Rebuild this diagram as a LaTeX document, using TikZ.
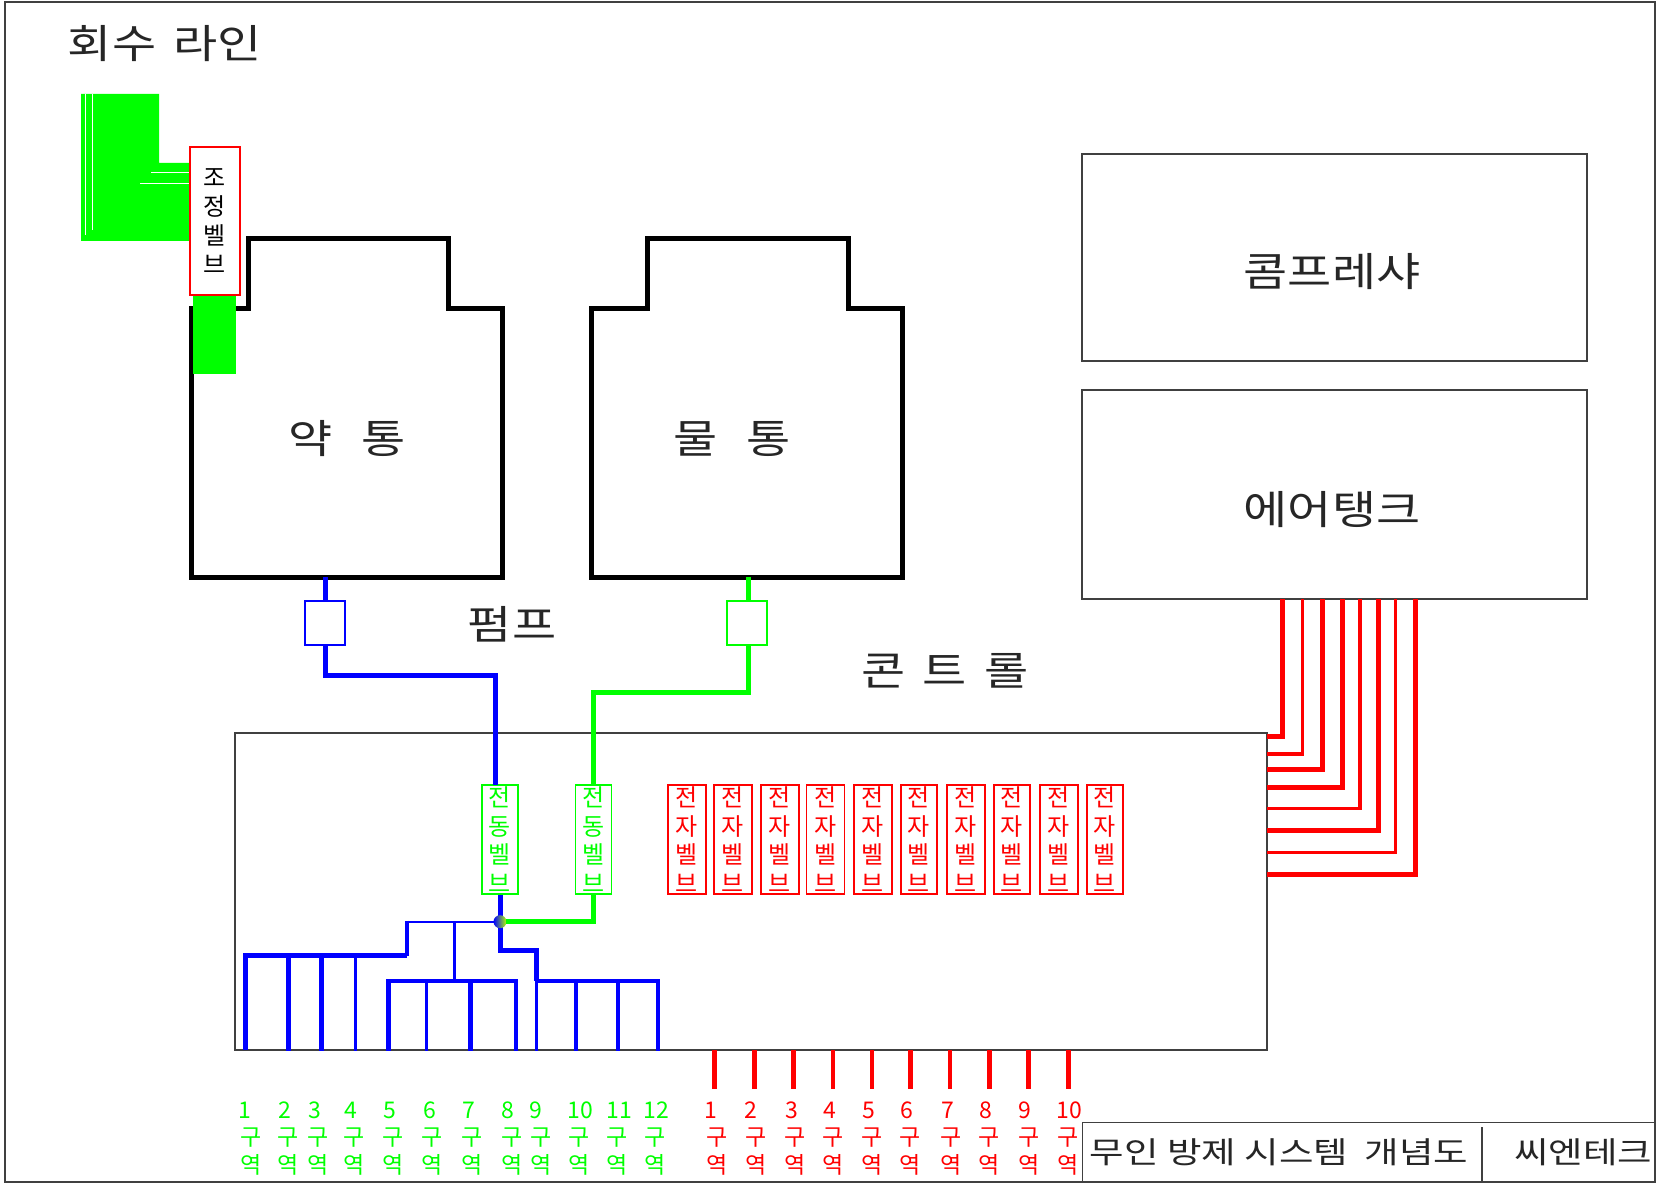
\documentclass[tikz,border=0pt]{standalone}
\usepackage{fontspec}
\usepackage{xcolor}
\usepackage{tikz}
\usetikzlibrary{positioning}
\setmainfont{Noto Sans CJK KR}
\newfontfamily\widefont{Noto Sans CJK KR}[FakeStretch=1.2]
\newfontfamily\blockfont{Noto Sans CJK KR}[FakeStretch=1.25]
\definecolor{c_frame}{rgb}{0.25, 0.25, 0.25}
\definecolor{c_green}{rgb}{0.0, 1.0, 0.0}
\definecolor{c_blue}{rgb}{0.0, 0.0, 1.0}
\definecolor{c_red}{rgb}{1.0, 0.0, 0.0}
\newcommand{\bigtext}{\widefont\fontsize{40}{40}\selectfont}
\newcommand{\blocktext}{\blockfont\fontsize{30}{30}\selectfont}
\newcommand{\valvetext}{\fontsize{24}{28.7}\selectfont}
\newcommand{\zonetext}{\fontsize{23}{27.5}\selectfont}
\tikzset{frame-box/.style={rectangle, draw=c_frame, line width=1.5pt, inner sep=0pt},
tank-line/.style={draw=black, line width=5pt, line join=miter},
big-label/.style={inner sep=0pt, text=black!85, font=\bigtext},
block-label/.style={inner sep=0pt, text=black!85, font=\blocktext},
valve-box/.style={rectangle, draw=#1, text=#1, line width=1.4pt, inner sep=0pt, minimum height=109pt, text centered, align=center, font=\valvetext},
pump-box/.style={rectangle, draw=#1, line width=1.3pt, fill=white, inner sep=0pt, minimum width=40pt, minimum height=44pt},
zone-label/.style={inner sep=0pt, text=#1, align=center, font=\zonetext},
pipe/.style={line width=5pt, line join=miter}}

\begin{document}
\begin{tikzpicture}[x=1pt, y=-1pt]
\useasboundingbox (0,0) rectangle (1666,1185);
\node (frame) [frame-box, line width=2pt, minimum width=1650pt, minimum height=1180pt] at (830,592) {};
\node (title) [big-label] at (165,44) {회수 \,라인};

% recovery line and its valve
\fill [c_green] (81,94) -- (159,94) -- (159,163) -- (191,163) -- (191,241) -- (81,241) -- cycle;
\draw [white, line width=1pt] (85,94) -- (85,235);
\draw [white, line width=1pt] (92,94) -- (92,230);
\draw [white, line width=1pt] (151,173) -- (191,173);
\draw [white, line width=1pt] (140,184) -- (191,184);

% tanks
\draw [tank-line] (191,577) -- (191,308) -- (248,308) -- (248,239) -- (448,239) -- (448,308) -- (502,308) -- (502,577) -- cycle;
\draw [tank-line] (591,577) -- (591,308) -- (647,308) -- (647,239) -- (848,239) -- (848,308) -- (902,308) -- (902,577) -- cycle;
\fill [c_green] (193,293) rectangle (236,374);
\node (adjust) [valve-box=c_red, text=black, minimum width=50pt, minimum height=148pt, fill=white, font=\fontsize{24}{29}\selectfont] at (215,221) {조\\정\\벨\\브};
\node (chem) [big-label] at (347,439) {약 \ \,통};
\node (water) [big-label] at (732,439) {물 \ \,통};
\coordinate (chemout) at (325,577);
\coordinate (waterout) at (748,577);

\node (comp) [frame-box, minimum width=505pt, minimum height=207pt] at (1334.5,257.5) {};
\node (air) [frame-box, minimum width=505pt, minimum height=209pt] at (1334.5,494.5) {};
\node (complabel) [big-label] at (1332,272) {콤프레샤};
\node (airlabel) [big-label] at (1332,510) {에어탱크};
\node (pumplabel) [big-label] at (512,624) {펌프};
\node (ctrllabel) [big-label] at (945,671) {콘 \,트 \,롤};

\node (ctrl) [frame-box, minimum width=1031.7pt, minimum height=317pt] at (751,891.5) {};

% motor valves and solenoid valves
\node (mv1) [valve-box=c_green, minimum width=36pt] at (500,839.5) {전\\동\\벨\\브};
\node (mv2) [valve-box=c_green, minimum width=36pt] at (593.5,839.5) {전\\동\\벨\\브};
\foreach \i/\x/\w in {1/687/38,2/733/38,3/780/38,4/825.5/38,5/873/38,6/919/36,7/966/38,8/1012/36,9/1059/38,10/1105/36} {
\node (sv\i) [valve-box=c_red, minimum width=\w pt] at (\x,839.5) {전\\자\\벨\\브};
}

% pumps and feed lines
\draw [pipe, c_blue] (chemout) -- (325,675.7) -- (495,675.7) -- (495,785);
\draw [pipe, c_green] (waterout) -- (748,692.7) -- (593,692.7) -- (593,785);
\node (pump1) [pump-box=c_blue] at (325,623) {};
\node (pump2) [pump-box=c_green] at (747,623) {};

% blue network
\coordinate (junc) at (500,921.7);
\coordinate (busa) at (407,955.7);
\coordinate (busb) at (454,981);
\coordinate (busc) at (536.7,981);
\draw [pipe, c_green] (mv2.south) |- (junc);
\draw [pipe, c_blue] (mv1.south) -- (500,950) -| (busc);
\draw [c_blue, line width=2.7pt] (busc) -- (busc |- ctrl.south);
\draw [c_blue, line width=2.3pt] (junc) -- (407,921.7);
\draw [pipe, line width=4pt, c_blue] (407,920.6) -- (busa);
\draw [c_blue, line width=3pt] (454,921.7) -- (busb);
\draw [pipe, c_blue] (245.7,1050) -- (245.7,955.7) -- (busa);
\foreach \x/\w in {288.3/4.5,321.7/4.5,355.7/3.3} {
\coordinate (drop) at (\x,955.7);
\draw [c_blue, line width=\w pt] (drop) -- (drop |- ctrl.south);
}
\draw [c_blue, line width=3.5pt] (388.3,981) -- (516,981);
\foreach \x/\w in {388.3/4.5,426/3,470.7/4.5,516/4.5} {
\coordinate (drop) at (\x,979);
\draw [c_blue, line width=\w pt] (drop) -- (drop |- ctrl.south);
}
\draw [c_blue, line width=3.5pt] (busc) -- (658,981);
\foreach \x/\w in {576/4.5,618/4.5,658/4.5} {
\coordinate (drop) at (\x,979);
\draw [c_blue, line width=\w pt] (drop) -- (drop |- ctrl.south);
}
\node (joint) [circle, inner sep=0pt, minimum size=13pt, left color=c_blue, middle color=gray, right color=yellow!70!green] at (junc) {};

% air lines
\foreach \x/\y/\w in {1282.2/736.4/5,1302.3/753.9/3.5,1322.8/769.5/5,1342/787.3/5,1360.2/808.6/3.5,1378.8/830/5,1395.4/852.4/3.5,1415.5/874/5} {
\draw [c_red, line width=\w pt, line join=miter] (\x,599) -- (\x,\y) -- (1266.7,\y);
}

% zone outlets and labels
\foreach \x/\w in {714.3/5.5,754.3/5.5,793/5,832.7/4,872/4.5,910.7/4.5,950/3.5,989.3/5,1028/5,1068/5} {
\draw [c_red, line width=\w pt] (\x,1050) -- (\x,1089);
}
\foreach \i/\xn/\xk in {1/245/250.7,2/285/288.3,3/315/317.7,4/351/354.3,5/390/393.3,6/430/432.3,7/469/472.3,8/507.5/512.3,9/535.5/540.7,10/580/579,11/619/617.3,12/656/654.7} {
\node (gn\i) [zone-label=c_green] at (\xn,1110) {\i};
\node (gz\i) [zone-label=c_green] at (\xk,1151.5) {구\\역};
}
\foreach \i/\xn/\xk in {1/711/717.3,2/751/756,3/791.5/794.7,4/829.5/833.3,5/868.5/871.7,6/907/910.3,7/947.5/951,8/986/989.3,9/1024.5/1029.3,10/1069/1068} {
\node (rn\i) [zone-label=c_red] at (\xn,1110) {\i};
\node (rz\i) [zone-label=c_red] at (\xk,1151.5) {구\\역};
}

% title block
\draw [c_frame, line width=1.5pt] (1655,1122.5) -- (1082.4,1122.5) -- (1082.4,1182);
\draw [c_frame, line width=1.5pt] (1482,1127) -- (1482,1182);
\node (name) [block-label] at (1279,1152) {무인 방제 시스템 \ 개념도};
\node (firm) [block-label] at (1583,1152) {씨엔테크};
\end{tikzpicture}
\end{document}
